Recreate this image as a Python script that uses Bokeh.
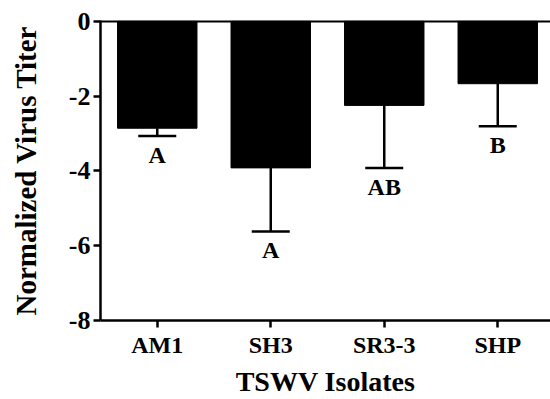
from bokeh.plotting import figure
from bokeh.models import Range1d, FixedTicker, ColumnDataSource, Whisker, TeeHead, Span
from bokeh.core.properties import value
from bokeh.embed import file_html
from bokeh.resources import INLINE

isolates = ["AM1", "SH3", "SR3-3", "SHP"]
titer = [-2.86, -3.92, -2.25, -1.67]
sem = [0.21, 1.70, 1.67, 1.14]
letters = ["A", "A", "AB", "B"]
y_ticks = [0, -2, -4, -6, -8]

xs = list(range(1, len(isolates) + 1))
lower = [m - e for m, e in zip(titer, sem)]
src = ColumnDataSource(dict(x=xs, top=[0] * len(xs), bottom=titer, lower=lower, letter=letters))

FONT = "Liberation Serif"

p = figure(width=550, height=399, output_backend="svg", toolbar_location=None,
           x_range=Range1d(0.5, 0.5 + 450 / 113.5), y_range=Range1d(-8, 0.02),
           min_border_left=100, min_border_right=0, min_border_top=20, min_border_bottom=78)
p.outline_line_color = None
p.grid.visible = False
p.background_fill_color = "white"

p.vbar(x="x", top="top", bottom="bottom", width=0.7, source=src, fill_color="black", line_color="black")

wh = Whisker(base="x", upper="bottom", lower="lower", source=src,
             line_width=2.5, line_color="black",
             lower_head=TeeHead(size=38, line_width=2.5, line_color="black"), upper_head=None)
p.add_layout(wh)

p.add_layout(Span(location=0, dimension="width", line_color="black", line_width=2.5))

p.text(x="x", y="lower", text="letter", source=src, text_align="center", text_baseline="top",
       y_offset=6, text_font=value(FONT), text_font_style="bold", text_font_size="24px", text_color="black")

for ax in (p.xaxis, p.yaxis):
    ax.axis_line_width = 2.5
    ax.major_tick_line_width = 2.5
    ax.major_tick_out = 7
    ax.major_tick_in = 0
    ax.minor_tick_line_color = None
    ax.major_label_text_font = FONT
    ax.major_label_text_font_style = "bold"
    ax.axis_label_text_font = FONT
    ax.axis_label_text_font_style = "bold"
    ax.axis_line_color = "black"
    ax.major_tick_line_color = "black"
    ax.major_label_text_color = "black"
    ax.axis_label_text_color = "black"

p.xaxis.ticker = FixedTicker(ticks=xs)
p.xaxis.major_label_overrides = {x: n for x, n in zip(xs, isolates)}
p.xaxis.major_label_text_font_size = "24px"
p.xaxis.major_label_standoff = 4
p.xaxis.axis_label = "TSWV Isolates"
p.xaxis.axis_label_text_font_size = "28px"
p.xaxis.axis_label_standoff = 5

p.yaxis.ticker = FixedTicker(ticks=y_ticks)
p.yaxis.major_label_overrides = {t: str(t) for t in y_ticks}
p.yaxis.major_label_text_font_size = "26px"
p.yaxis.major_label_standoff = 3
p.yaxis.axis_label = "Normalized Virus Titer"
p.yaxis.axis_label_text_font_size = "29px"
p.yaxis.axis_label_standoff = 24

open("out.html", "w").write(file_html(p, INLINE))
